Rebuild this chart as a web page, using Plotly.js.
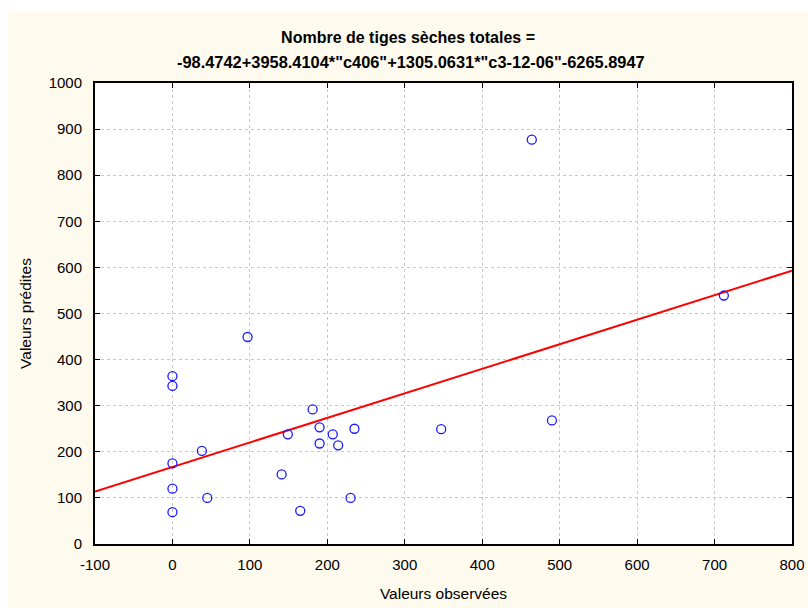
<!DOCTYPE html>
<html>
<head>
<meta charset="utf-8">
<script src="https://cdn.plot.ly/plotly-3.0.1.min.js"></script>
<style>html,body{margin:0;padding:0;background:#fff;}#chart{width:808px;height:608px;}</style>
</head>
<body>
<div id="chart"></div>
<script>
// Observed vs predicted values
const observed = [464, 712, 97, 0, 0, 181, 190, 149, 207, 235, 347, 490, 190, 214, 38, 0, 141, 0, 45, 230, 165, 0];
const predicted = [877, 539, 449, 364, 343, 292, 253, 238, 238, 250, 249, 268, 218, 214, 202, 175, 151, 120, 100, 100, 72, 69];
// Regression line endpoints
const fitX = [-100, 800];
const fitY = [114, 593];

const xTicks = [-100, 0, 100, 200, 300, 400, 500, 600, 700, 800];
const yTicks = [0, 100, 200, 300, 400, 500, 600, 700, 800, 900, 1000];

const titleLine1 = "Nombre de tiges sèches totales =";
const titleLine2 = "-98.4742+3958.4104*\"c406\"+1305.0631*\"c3-12-06\"-6265.8947";

const fontFam = "Liberation Sans, Arial, sans-serif";

const traces = [
  {
    x: fitX, y: fitY, type: 'scatter', mode: 'lines',
    line: {color: '#ff0000', width: 2},
    hoverinfo: 'skip', showlegend: false
  },
  {
    x: observed, y: predicted, type: 'scatter', mode: 'markers',
    marker: {symbol: 'circle-open', size: 9, color: '#1a1aff', line: {width: 1.3, color: '#1a1aff'}},
    showlegend: false
  }
];

const axisCommon = {
  showline: true, linecolor: '#000', linewidth: 2, mirror: 'ticks',
  ticks: 'inside', ticklen: 5, tickwidth: 1, tickcolor: '#000',
  showgrid: true, gridcolor: '#c8c8c8', griddash: 'dot', gridwidth: 1,
  zeroline: false,
  tickfont: {family: fontFam, size: 15, color: '#000'}
};

const layout = {
  width: 808, height: 608,
  margin: {l: 95, r: 16, t: 83, b: 64},
  paper_bgcolor: '#ffffff',
  plot_bgcolor: '#ffffff',
  title: {
    text: '<b>' + titleLine1 + '</b>',
    font: {family: fontFam, size: 16, color: '#000'},
    x: 0.505, xanchor: 'center', y: 1 - 37 / 608, yanchor: 'middle'
  },
  annotations: [
    {text: '<b>' + titleLine2 + '</b>', xref: 'paper', yref: 'paper',
     x: (411 - 95) / 697, y: (544 - 62) / 461, xanchor: 'center', yanchor: 'middle',
     showarrow: false, font: {family: fontFam, size: 16.4, color: '#000'}}
  ],
  xaxis: Object.assign({}, axisCommon, {
    range: [-100, 800], tickvals: xTicks, ticktext: xTicks.map(String),
    ticklabelstandoff: 6,
    title: {text: 'Valeurs observées', font: {family: fontFam, size: 15.5, color: '#000'}, standoff: 16}
  }),
  yaxis: Object.assign({}, axisCommon, {
    range: [0, 1000], tickvals: yTicks, ticktext: yTicks.map(String),
    ticklabelstandoff: 8,
    title: {text: 'Valeurs prédites', font: {family: fontFam, size: 15.5, color: '#000'}, standoff: 13}
  }),
  shapes: [
    {type: 'rect', xref: 'paper', yref: 'paper', layer: 'below',
     x0: (8 - 95) / 697, x1: (808 - 95) / 697, y0: -64 / 461, y1: (544 - 12) / 461,
     fillcolor: '#fffaee', line: {width: 0}},
    {type: 'rect', xref: 'paper', yref: 'paper', layer: 'below',
     x0: 0, x1: 1, y0: 0, y1: 1, fillcolor: '#ffffff', line: {width: 0}}
  ]
};

Plotly.newPlot('chart', traces, layout, {displayModeBar: false, staticPlot: true});
</script>
</body>
</html>
